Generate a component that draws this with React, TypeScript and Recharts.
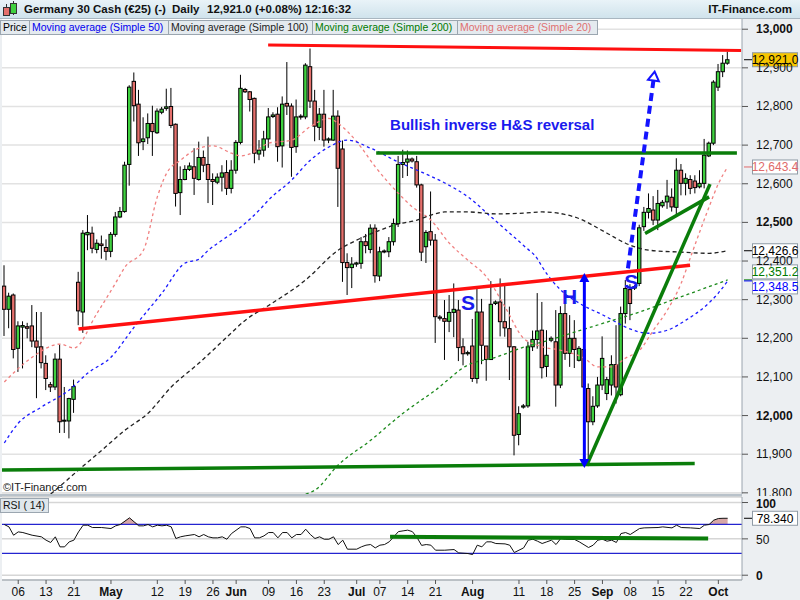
import React from 'react'
import {
  ComposedChart,
  Bar,
  Line,
  Area,
  XAxis,
  YAxis,
  CartesianGrid,
  ReferenceLine,
  ReferenceDot,
} from 'recharts'

const FONT = '"Liberation Sans", Arial, sans-serif'

// daily OHLC, Germany 30 Cash (bars incl. Sunday sessions)
const opens = [
  12335, 12275, 12312, 12174, 12229, 12230, 12232, 12193, 12178, 12135,
  12080, 12074, 12146, 11986, 11986, 12042, 12345, 12268, 12468, 12472,
  12430, 12444, 12435, 12425, 12469, 12514, 12528, 12650, 12865, 12806,
  12709, 12719, 12756, 12732, 12785, 12795, 12800, 12754, 12577, 12611,
  12637, 12644, 12611, 12668, 12650, 12611, 12604, 12617, 12629, 12588,
  12635, 12707, 12844, 12838, 12821, 12677, 12687, 12716, 12774, 12780,
  12698, 12808, 12801, 12696, 12773, 12773, 12903, 12814, 12746, 12780,
  12713, 12713, 12775, 12690, 12396, 12383, 12392, 12394, 12450, 12430,
  12485, 12361, 12424, 12424, 12450, 12497, 12650, 12656, 12664, 12657,
  12597, 12437, 12476, 12454, 12255, 12251, 12244, 12267, 12273, 12178,
  12160, 12180, 12096, 12268, 12180, 12145, 12290, 12294, 12243, 12225,
  12178, 11951, 12022, 12025, 12178, 12197, 12221, 12127, 12200, 12191,
  12079, 12264, 12161, 12200, 12143, 12171, 12070, 11984, 12025, 12079,
  12057, 12079, 12132, 12054, 12264, 12326, 12330, 12342, 12489, 12526,
  12532, 12506, 12543, 12553, 12565, 12539, 12635, 12601, 12611, 12607,
  12592, 12601, 12672, 12705, 12850, 12890, 12912,
]
const highs = [
  12389, 12318, 12316, 12244, 12244, 12240, 12286, 12268, 12268, 12156,
  12087, 12161, 12184, 12074, 12046, 12093, 12372, 12480, 12519, 12489,
  12456, 12466, 12456, 12475, 12527, 12540, 12657, 12855, 12888, 12843,
  12772, 12782, 12802, 12795, 12799, 12846, 12848, 12756, 12645, 12648,
  12655, 12692, 12709, 12686, 12722, 12627, 12627, 12648, 12661, 12661,
  12713, 12882, 12848, 12840, 12823, 12713, 12737, 12796, 12785, 12798,
  12826, 12915, 12808, 12818, 12780, 12912, 12950, 12843, 12796, 12843,
  12720, 12843, 12790, 12712, 12420, 12410, 12398, 12462, 12470, 12495,
  12495, 12437, 12430, 12462, 12510, 12672, 12688, 12686, 12668, 12672,
  12600, 12480, 12580, 12470, 12260, 12299, 12312, 12342, 12299, 12200,
  12168, 12250, 12331, 12302, 12180, 12348, 12298, 12355, 12338, 12282,
  12180, 12024, 12030, 12191, 12220, 12317, 12294, 12221, 12205, 12273,
  12283, 12289, 12260, 12247, 12180, 12180, 12083, 12050, 12100, 12205,
  12100, 12156, 12234, 12282, 12351, 12340, 12338, 12494, 12540, 12575,
  12568, 12584, 12558, 12610, 12588, 12666, 12651, 12627, 12622, 12622,
  12635, 12716, 12709, 12868, 12910, 12933, 12942,
]
const lows = [
  12206, 12226, 12148, 12113, 12122, 12200, 12177, 12045, 12122, 12066,
  12061, 12066, 11955, 11955, 11941, 12007, 12234, 12214, 12428, 12420,
  12420, 12406, 12402, 12410, 12463, 12511, 12525, 12595, 12761, 12672,
  12687, 12703, 12672, 12729, 12780, 12789, 12744, 12541, 12519, 12609,
  12633, 12571, 12608, 12630, 12550, 12545, 12599, 12580, 12571, 12575,
  12626, 12702, 12835, 12787, 12653, 12661, 12670, 12693, 12770, 12657,
  12642, 12778, 12618, 12680, 12766, 12767, 12796, 12710, 12713, 12696,
  12705, 12711, 12540, 12346, 12312, 12330, 12385, 12380, 12420, 12420,
  12344, 12348, 12420, 12410, 12440, 12488, 12615, 12620, 12655, 12590,
  12400, 12395, 12440, 12188, 12246, 12144, 12216, 12203, 12141, 12130,
  12155, 12087, 12083, 12133, 12090, 12144, 12286, 12205, 12204, 12092,
  11897, 11923, 12018, 12020, 12167, 12173, 12096, 12100, 12190, 12023,
  12071, 12144, 12126, 12123, 12140, 12060, 11869, 11975, 12020, 12066,
  12040, 12052, 12031, 12050, 12238, 12247, 12325, 12335, 12478, 12510,
  12493, 12480, 12538, 12535, 12528, 12517, 12570, 12570, 12573, 12575,
  12588, 12588, 12669, 12700, 12840, 12876, 12908,
]
const closes = [
  12275, 12309, 12171, 12232, 12233, 12226, 12193, 12177, 12137, 12096,
  12074, 12146, 11984, 11988, 12044, 12075, 12271, 12472, 12474, 12433,
  12446, 12440, 12425, 12469, 12514, 12528, 12648, 12850, 12802, 12706,
  12716, 12756, 12735, 12788, 12793, 12799, 12751, 12575, 12611, 12637,
  12646, 12614, 12668, 12648, 12611, 12606, 12617, 12628, 12588, 12635,
  12707, 12847, 12838, 12818, 12679, 12687, 12716, 12773, 12778, 12696,
  12806, 12801, 12694, 12773, 12775, 12907, 12814, 12749, 12780, 12713,
  12716, 12775, 12640, 12396, 12383, 12392, 12395, 12450, 12440, 12485,
  12362, 12424, 12426, 12450, 12497, 12650, 12655, 12664, 12659, 12597,
  12423, 12474, 12454, 12256, 12252, 12244, 12267, 12275, 12176, 12160,
  12163, 12096, 12268, 12182, 12145, 12288, 12294, 12243, 12227, 12178,
  11949, 12005, 12025, 12178, 12197, 12219, 12124, 12156, 12195, 12079,
  12264, 12161, 12200, 12171, 12174, 12074, 11984, 12024, 12079, 12148,
  12093, 12132, 12074, 12264, 12329, 12290, 12334, 12486, 12526, 12536,
  12506, 12549, 12552, 12568, 12540, 12635, 12601, 12614, 12588, 12590,
  12601, 12674, 12705, 12863, 12890, 12912, 12921,
]

// moving averages: [bar index, value]
const sma20Pts = [
  [0, 12087], [6, 12151], [12, 12185], [15, 12175], [20, 12265], [24, 12343], [26, 12384],
  [30, 12428], [33, 12566], [35, 12627], [38, 12661], [42, 12692], [45, 12698], [49, 12679],
  [51, 12672], [54, 12683], [57, 12705], [62, 12713], [66, 12748], [70, 12769], [72, 12756],
  [76, 12709], [80, 12644], [85, 12575], [88, 12540], [92, 12506], [96, 12446], [100, 12402],
  [104, 12359], [108, 12281], [112, 12200], [116, 12178], [120, 12169], [125, 12149],
  [128, 12126], [131, 12126], [134, 12149], [137, 12169], [140, 12221], [143, 12273],
  [146, 12343], [148, 12410], [152, 12540], [154, 12600], [156, 12643.4],
]
const sma50Pts = [
  [0, 11929], [3, 11980], [8, 12022], [14, 12066], [18, 12110], [23, 12151], [28, 12229],
  [34, 12317], [39, 12395], [42, 12405], [44, 12428], [47, 12454], [51, 12488], [55, 12532],
  [57, 12558], [62, 12610], [66, 12661], [70, 12695], [74, 12713], [79, 12692], [85, 12656],
  [90, 12630], [95, 12602], [100, 12566], [105, 12514], [109, 12472], [112, 12440],
  [115, 12405], [116, 12385], [120, 12325], [124, 12291], [130, 12255], [134, 12229],
  [139, 12213], [143, 12221], [147, 12247], [151, 12281], [154, 12317], [156, 12348.5],
]
const sma100Pts = [
  [10, 11797], [11, 11807], [16, 11859], [21, 11910], [26, 11962], [31, 12006], [36, 12074],
  [42, 12136], [48, 12203], [52, 12247], [57, 12285], [65, 12351], [72, 12428], [76, 12454],
  [80, 12475], [85, 12496], [89, 12506], [92, 12519], [95, 12527], [100, 12527], [106, 12522],
  [112, 12524], [116, 12527], [123, 12514], [130, 12472], [134, 12446], [139, 12428],
  [146, 12423], [152, 12420], [156, 12426.6],
]
const sma200Pts = [
  [65, 11797], [67, 11807], [72, 11872], [79, 11936], [86, 12006], [93, 12066], [100, 12131],
  [106, 12151], [112, 12177], [116, 12190], [123, 12216], [130, 12242], [137, 12268],
  [144, 12299], [150, 12325], [156, 12351.2],
]

// RSI(14): [bar index, value]
const rsiPts = [
  [0, 69.7], [1, 66.5], [2, 55], [3, 59.6], [4, 58.7], [6, 55], [8, 52.8], [9, 48.2], [10, 45],
  [11, 52.8], [12, 39], [13, 39], [14, 45.9], [15, 48.2], [16, 59.6], [17, 68.8], [18, 68.8],
  [19, 65.6], [21, 65.6], [23, 64.2], [24, 67.9], [25, 69.7], [27, 78.9], [28, 73.4], [29, 67.9],
  [30, 67.9], [31, 69.7], [32, 66.5], [33, 68.8], [34, 67.9], [35, 68.8], [36, 66.5], [37, 50.5],
  [38, 52.8], [39, 54.1], [41, 56], [42, 52.8], [43, 56], [44, 52.8], [45, 51.4], [46, 51.4],
  [47, 52.8], [48, 49.5], [49, 57.3], [51, 66.5], [52, 66.5], [53, 64.2], [54, 51.4], [55, 51.4],
  [56, 54.1], [57, 58.7], [58, 58.7], [59, 51.4], [60, 58.7], [61, 58.7], [62, 51.4], [63, 56],
  [64, 56], [65, 63.3], [66, 56], [67, 50.5], [68, 52.8], [69, 49.5], [70, 49.5], [71, 52.8],
  [72, 42.2], [73, 48.2], [74, 35.8], [76, 35.8], [77, 39], [78, 41.3], [79, 42.2], [80, 37.6],
  [81, 41.3], [82, 42.2], [83, 45.9], [84, 52.8], [85, 60], [86, 61], [87, 62], [88, 60],
  [89, 52], [90, 41], [91, 42.2], [92, 41.3], [93, 34.4], [95, 34.4], [97, 35.3], [98, 30.7],
  [100, 29.8], [101, 28.4], [102, 41.3], [103, 39], [104, 45.9], [105, 45.9], [106, 43.6],
  [108, 43.1], [109, 41.3], [110, 31.2], [111, 34.4], [112, 37.6], [113, 48.2], [114, 49.5],
  [115, 46.8], [116, 43.6], [117, 45.9], [118, 48.2], [119, 42.2], [120, 50.5], [121, 49.5],
  [123, 49.1], [124, 45.9], [126, 38.1], [127, 41.3], [128, 48.2], [129, 49.5], [130, 46.8],
  [131, 48.2], [132, 45], [133, 57.3], [134, 58.7], [135, 56], [137, 64.2], [138, 65.1],
  [141, 65.6], [142, 66.5], [144, 65.1], [145, 68.8], [146, 65.6], [148, 65.1], [150, 64.2],
  [151, 68.8], [152, 69.7], [153, 75.7], [154, 78], [155, 78.3], [156, 78.34],
]

const dateTicks: [number, string][] = [
  [3, '06'], [9, '13'], [15, '21'], [23, 'May'], [33, '12'], [39, '19'], [45, '26'], [50, 'Jun'],
  [57, '09'], [63, '16'], [69, '23'], [76, 'Jul'], [81, '07'], [87, '14'], [93, '21'], [101, 'Aug'],
  [111, '11'], [117, '18'], [123, '25'], [129, 'Sep'], [135, '08'], [141, '15'], [147, '22'], [154, 'Oct'],
]
const priceTicks = [11800, 11900, 12000, 12100, 12200, 12300, 12400, 12500, 12600, 12700, 12800, 12900, 13000]
const rsiTicks = [0, 50, 100]

const X_DOMAIN: [number, number] = [-0.5, 159.1]

const toMap = (pts: number[][]) => new Map(pts.map(([i, v]) => [i, v]))
const m20 = toMap(sma20Pts)
const m50 = toMap(sma50Pts)
const m100 = toMap(sma100Pts)
const m200 = toMap(sma200Pts)
const mRsi = toMap(rsiPts)

const rows = opens.map((o, i) => {
  const rsi = mRsi.has(i) ? mRsi.get(i)! : null
  return {
    i,
    o,
    h: highs[i],
    l: lows[i],
    c: closes[i],
    range: [lows[i], highs[i]],
    sma20: m20.get(i) ?? null,
    sma50: m50.get(i) ?? null,
    sma100: m100.get(i) ?? null,
    sma200: m200.get(i) ?? null,
    rsi,
    rsiHi: rsi == null ? null : Math.max(rsi, 70),
  }
})

const last = (pts: number[][]) => pts[pts.length - 1][1]
const fmt1 = (v: number) => v.toLocaleString('en-US', { minimumFractionDigits: 1 })

function Candle(props: any) {
  const { x, y, width, height, payload } = props
  if (!payload || payload.h == null || !height) return null
  const { o, h, l, c } = payload
  const top = Math.min(y, y + height)
  const span = Math.abs(height)
  const py = (v: number) => top + ((h - v) / (h - l)) * span
  const cx = x + width / 2
  const bTop = py(Math.max(o, c))
  const bBot = py(Math.min(o, c))
  return (
    <g>
      <line x1={cx} x2={cx} y1={top} y2={top + span} stroke="#000" strokeWidth={1} />
      <rect
        x={cx - 1.7}
        y={bTop}
        width={3.4}
        height={Math.max(bBot - bTop, 1)}
        fill={c >= o ? '#3fd13f' : '#e5706c'}
        stroke="#000"
        strokeWidth={1}
      />
    </g>
  )
}

function PriceTick(props: any) {
  const { y, payload } = props
  const v = payload.value
  return (
    <text x={756} y={y + 4} fontSize={12} fontWeight={v % 500 === 0 ? 700 : 400} fill="#111">
      {v.toLocaleString('en-US')}
    </text>
  )
}

function RsiTick(props: any) {
  const { y, payload } = props
  const v = payload.value
  return (
    <text x={756} y={y + 5} fontSize={12} fontWeight={v === 50 ? 400 : 700} fill="#111">
      {v}
    </text>
  )
}

function DateTick(props: any) {
  const { x, y, payload } = props
  const lab = dateTicks.find((d) => d[0] === payload.value)?.[1] ?? ''
  const month = /[A-Za-z]/.test(lab)
  return (
    <text x={x} y={y + 10} textAnchor="middle" fontSize={12} fontWeight={month ? 700 : 400} fill="#111">
      {lab}
    </text>
  )
}

const valueBox = (text: string, color: string, bg: string, dy = 0) => (p: any) => (
  <g>
    <line x1={744} x2={752} y1={p.cy} y2={p.cy} stroke={color} strokeWidth={1} />
    <rect x={752.5} y={p.cy + dy - 7} width={45} height={14} fill={bg} stroke="#8f9ba6" />
    <text x={775} y={p.cy + dy + 4.5} textAnchor="middle" fontSize={12} fill={color}>
      {text}
    </text>
  </g>
)

const label = (text: string, size: number, anchor: 'start' | 'middle' = 'middle') => (p: any) => (
  <text x={p.cx} y={p.cy + size * 0.36} textAnchor={anchor} fontSize={size} fontWeight={700} fill="#1a1aee">
    {text}
  </text>
)

function DoubleArrow(p: any) {
  const x = p.x1
  const top = Math.min(p.y1, p.y2)
  const bot = Math.max(p.y1, p.y2)
  return (
    <g>
      <line x1={x} x2={x} y1={top + 8} y2={bot - 8} stroke="#0000ff" strokeWidth={3} />
      <polygon points={`${x},${top} ${x - 5},${top + 9} ${x + 5},${top + 9}`} fill="#0000ff" />
      <polygon points={`${x},${bot} ${x - 5},${bot - 9} ${x + 5},${bot - 9}`} fill="#0000ff" />
    </g>
  )
}

function DashedArrow(p: any) {
  const { x1, y1, x2, y2 } = p
  const len = Math.hypot(x2 - x1, y2 - y1)
  const ux = (x2 - x1) / len
  const uy = (y2 - y1) / len
  const tx = x2 + ux * 9
  const ty = y2 + uy * 9
  return (
    <g>
      <line x1={x1} y1={y1} x2={x2} y2={y2} stroke="#1414ff" strokeWidth={4} strokeDasharray="8 5" />
      <polygon
        points={`${tx},${ty} ${x2 - uy * 5.5},${y2 + ux * 5.5} ${x2 + uy * 5.5},${y2 - ux * 5.5}`}
        fill="#fff"
        stroke="#1414ff"
        strokeWidth={2}
      />
    </g>
  )
}

const legendItems = [
  { text: 'Price', color: '#000', left: 0, width: 30 },
  { text: 'Moving average (Simple 50)', color: '#0000ee', left: 29, width: 140 },
  { text: 'Moving average (Simple 100)', color: '#222', left: 168, width: 145 },
  { text: 'Moving average (Simple 200)', color: '#007a00', left: 312, width: 146 },
  { text: 'Moving average (Simple 20)', color: '#e07070', left: 457, width: 141 },
]

export default function App() {
  return (
    <div
      style={{
        position: 'absolute',
        left: 0,
        top: 0,
        width: 800,
        height: 600,
        overflow: 'hidden',
        background: '#eceff2',
        fontFamily: FONT,
      }}
    >
      <div style={{ position: 'absolute', left: 0, top: 0 }}>
        <ComposedChart width={800} height={496} data={rows} margin={{ top: 18, right: 0, bottom: 2, left: 2 }}>
          <CartesianGrid vertical={false} stroke="#e2e2e2" strokeWidth={1.5} fill="#fff" />
          <XAxis type="number" dataKey="i" domain={X_DOMAIN} allowDataOverflow hide />
          <YAxis
            orientation="right"
            width={58}
            domain={[11797, 13029]}
            allowDataOverflow
            ticks={priceTicks}
            interval={0}
            tick={<PriceTick />}
            tickSize={6}
            axisLine={{ stroke: '#9aa4ae' }}
            tickLine={{ stroke: '#555' }}
          />
          <Bar dataKey="range" barSize={4} shape={<Candle />} isAnimationActive={false} />
          <Line dataKey="sma20" type="monotone" stroke="#f08080" strokeWidth={1.3} strokeDasharray="3 3" dot={false} activeDot={false} connectNulls isAnimationActive={false} />
          <Line dataKey="sma50" type="monotone" stroke="#1a1aff" strokeWidth={1.3} strokeDasharray="3 3" dot={false} activeDot={false} connectNulls isAnimationActive={false} />
          <Line dataKey="sma100" type="monotone" stroke="#222" strokeWidth={1.3} strokeDasharray="4 3" dot={false} activeDot={false} connectNulls isAnimationActive={false} />
          <Line dataKey="sma200" type="monotone" stroke="#1c8a1c" strokeWidth={1.3} strokeDasharray="3 3" dot={false} activeDot={false} connectNulls isAnimationActive={false} />

          <ReferenceLine segment={[{ x: 56.9, y: 12959 }, { x: 158.9, y: 12945 }]} stroke="#ff1010" strokeWidth={3} />
          <ReferenceLine segment={[{ x: 16, y: 12224 }, { x: 147.9, y: 12389 }]} stroke="#ff1010" strokeWidth={3.5} />
          <ReferenceLine segment={[{ x: 80.2, y: 12679.5 }, { x: 158, y: 12679.5 }]} stroke="#0a7d0a" strokeWidth={3.5} />
          <ReferenceLine segment={[{ x: -0.5, y: 11859 }, { x: 148.9, y: 11876 }]} stroke="#0a7d0a" strokeWidth={3.5} />
          <ReferenceLine segment={[{ x: 125.7, y: 11874 }, { x: 152.2, y: 12599 }]} stroke="#0a7d0a" strokeWidth={3.5} />
          <ReferenceLine segment={[{ x: 138.2, y: 12471 }, { x: 152, y: 12566 }]} stroke="#0a7d0a" strokeWidth={3.5} />
          <ReferenceLine segment={[{ x: 125.1, y: 12369 }, { x: 125.1, y: 11864 }]} shape={DoubleArrow} />
          <ReferenceLine segment={[{ x: 134.5, y: 12381 }, { x: 140, y: 12867 }]} shape={DashedArrow} />

          <ReferenceDot x={83.2} y={12754} r={0} ifOverflow="visible" shape={label('Bullish inverse H&S reversal', 15, 'start')} />
          <ReferenceDot x={100} y={12293} r={0} ifOverflow="visible" shape={label('S', 21)} />
          <ReferenceDot x={121.9} y={12309} r={0} ifOverflow="visible" shape={label('H', 21)} />
          <ReferenceDot x={135.2} y={12348} r={0} ifOverflow="visible" shape={label('S', 21)} />

          <ReferenceDot x={156} y={closes[closes.length - 1]} r={0} ifOverflow="visible" shape={valueBox(fmt1(closes[closes.length - 1]), '#000', '#f7c600')} />
          <ReferenceDot x={156} y={last(sma20Pts)} r={0} ifOverflow="visible" shape={valueBox(fmt1(last(sma20Pts)), '#e06a6a', '#fff')} />
          <ReferenceDot x={156} y={last(sma100Pts)} r={0} ifOverflow="visible" shape={valueBox(fmt1(last(sma100Pts)), '#000', '#fff')} />
          <ReferenceDot x={156} y={last(sma200Pts)} r={0} ifOverflow="visible" shape={valueBox(fmt1(last(sma200Pts)), '#007a00', '#fff', -8)} />
          <ReferenceDot x={156} y={last(sma50Pts)} r={0} ifOverflow="visible" shape={valueBox(fmt1(last(sma50Pts)), '#0000ff', '#fff', 6)} />
        </ComposedChart>
      </div>

      <div style={{ position: 'absolute', left: 0, top: 494, width: 742, height: 3, background: '#b9c2ca' }} />

      <div style={{ position: 'absolute', left: 0, top: 495 }}>
        <ComposedChart width={800} height={105} data={rows} margin={{ top: 2, right: 0, bottom: 0, left: 2 }}>
          <CartesianGrid vertical={false} stroke="#d6d6d6" strokeWidth={1.5} fill="#fff" />
          <XAxis
            type="number"
            dataKey="i"
            domain={X_DOMAIN}
            allowDataOverflow
            ticks={dateTicks.map((d) => d[0])}
            interval={0}
            height={20}
            tickSize={4}
            tick={<DateTick />}
            axisLine={{ stroke: '#9aa4ae' }}
            tickLine={{ stroke: '#555' }}
          />
          <YAxis
            orientation="right"
            width={58}
            domain={[-6.6, 107.6]}
            allowDataOverflow
            ticks={rsiTicks}
            interval={0}
            tick={<RsiTick />}
            tickSize={6}
            axisLine={{ stroke: '#9aa4ae' }}
            tickLine={{ stroke: '#555' }}
          />
          <ReferenceLine y={70} stroke="#2424d0" strokeWidth={1.2} />
          <ReferenceLine y={30} stroke="#2424d0" strokeWidth={1.2} />
          <Area dataKey="rsiHi" type="linear" baseValue={70} fill="#d6a6a6" fillOpacity={1} stroke="none" connectNulls dot={false} activeDot={false} isAnimationActive={false} />
          <Line dataKey="rsi" type="linear" stroke="#111" strokeWidth={1} dot={false} activeDot={false} connectNulls isAnimationActive={false} />
          <ReferenceLine segment={[{ x: 83.2, y: 52.8 }, { x: 151.8, y: 50.5 }]} stroke="#0a7d0a" strokeWidth={4} />
          <ReferenceDot x={156} y={last(rsiPts)} r={0} ifOverflow="visible" shape={valueBox(last(rsiPts).toFixed(3), '#000', '#fff')} />
        </ComposedChart>
      </div>

      {/* title bar */}
      <div
        style={{
          position: 'absolute',
          left: 0,
          top: 0,
          width: 800,
          height: 19,
          background: 'linear-gradient(#e9f3f8, #d0e3ec)',
          borderBottom: '1px solid #a9b6c0',
          boxSizing: 'border-box',
          fontSize: 11.5,
          fontWeight: 700,
          color: '#111',
          lineHeight: '18px',
        }}
      >
        <div style={{ position: 'absolute', left: 6, top: 4, width: 1, height: 12, background: '#333' }} />
        <div style={{ position: 'absolute', left: 3, top: 7, width: 5, height: 7, background: '#e5706c', border: '1px solid #333' }} />
        <div style={{ position: 'absolute', left: 13, top: 1, width: 1, height: 14, background: '#333' }} />
        <div style={{ position: 'absolute', left: 10, top: 3, width: 5, height: 9, background: '#3fd13f', border: '1px solid #333' }} />
        <span style={{ position: 'absolute', left: 24 }}>Germany 30 Cash (€25) (-)</span>
        <span style={{ position: 'absolute', left: 172 }}>Daily</span>
        <span style={{ position: 'absolute', left: 207 }}>12,921.0 (+0.08%)</span>
        <span style={{ position: 'absolute', left: 305 }}>12:16:32</span>
        <span style={{ position: 'absolute', right: 8 }}>IT-Finance.com</span>
      </div>

      {/* legend */}
      {legendItems.map((it) => (
        <div
          key={it.text}
          style={{
            position: 'absolute',
            left: it.left,
            top: 20,
            width: it.width,
            height: 15,
            boxSizing: 'border-box',
            border: '1px solid #9ba6b0',
            background: '#e4eaef',
            color: it.color,
            fontSize: 10.5,
            lineHeight: '13px',
            paddingLeft: 2,
            whiteSpace: 'nowrap',
            overflow: 'hidden',
          }}
        >
          {it.text}
        </div>
      ))}

      <div style={{ position: 'absolute', left: 3, top: 481, fontSize: 11, color: '#222' }}>©IT-Finance.com</div>

      <div
        style={{
          position: 'absolute',
          left: 0,
          top: 498,
          width: 49,
          height: 15,
          boxSizing: 'border-box',
          border: '1px solid #9ba6b0',
          background: '#dfe6eb',
          fontSize: 10.5,
          lineHeight: '13px',
          paddingLeft: 2,
          color: '#111',
          whiteSpace: 'nowrap',
        }}
      >
        RSI ( 14)
      </div>
    </div>
  )
}
